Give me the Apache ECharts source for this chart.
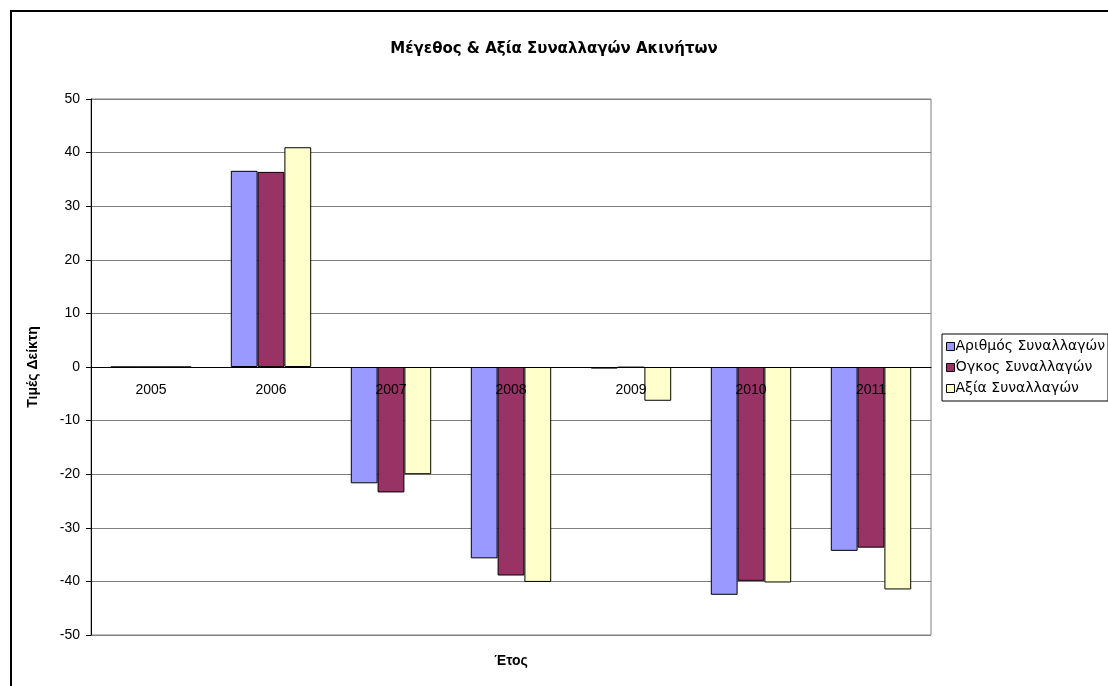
<!DOCTYPE html>
<html>
<head>
<meta charset="utf-8">
<script src="https://cdn.jsdelivr.net/npm/echarts@6/dist/echarts.min.js"></script>
<style>
  html, body { margin: 0; padding: 0; background: #fff; }
  #chart { width: 1108px; height: 686px; }
</style>
</head>
<body>
<div id="chart"></div>
<script>
// Years on the category axis
const years = ['2005', '2006', '2007', '2008', '2009', '2010', '2011'];

// Index values per series (annual % change)
const arithmos = [0, 36.6, -21.7, -35.7, -0.3, -42.5, -34.3];
const ogkos    = [0, 36.4, -23.4, -38.9, -0.1, -39.9, -33.7];
const axia     = [0, 41.0, -20.0, -40.1, -6.3, -40.2, -41.5];

const seriesNames = ['Αριθμός Συναλλαγών', 'Όγκος Συναλλαγών', 'Αξία Συναλλαγών'];
const seriesColors = ['#9999FF', '#993366', '#FFFFCC'];

const font = '"Liberation Sans", Arial, sans-serif';
const wideFont = '"DejaVu Sans", Verdana, sans-serif';

const chart = echarts.init(document.getElementById('chart'), null, { renderer: 'canvas' });

function barSeries(name, data, color) {
  return {
    name: name,
    type: 'bar',
    data: data,
    barGap: '0%',
    barCategoryGap: '33%',
    itemStyle: { color: color, borderColor: '#000', borderWidth: 1 },
    emphasis: { disabled: true }
  };
}

// plot area geometry; the category axis sits on the zero line (midway, since -50..50)
const gridTop = 99, gridBottom = 51, plotHeight = 686 - gridTop - gridBottom;

chart.setOption({
  animation: false,
  backgroundColor: '#fff',
  title: {
    text: 'Μέγεθος & Αξία Συναλλαγών Ακινήτων',
    left: 'center',
    top: 37,
    textStyle: { fontFamily: wideFont, fontSize: 15, fontWeight: 'bold', color: '#000' }
  },
  legend: {
    orient: 'vertical',
    left: 942,
    top: 334,
    padding: [4, 3, 4, 4],
    itemWidth: 8,
    itemHeight: 8,
    itemGap: 4,
    borderColor: '#000',
    borderWidth: 1,
    borderRadius: 0,
    icon: 'rect',
    data: seriesNames,
    textStyle: { fontFamily: wideFont, fontSize: 14, lineHeight: 17, color: '#000', padding: [0, 0, 0, -4] },
    itemStyle: { borderColor: '#000', borderWidth: 1 }
  },
  grid: {
    left: 91,
    right: 177,
    top: gridTop,
    bottom: gridBottom,
    show: true,
    borderColor: '#808080',
    borderWidth: 1,
    backgroundColor: '#fff'
  },
  xAxis: {
    type: 'category',
    data: years,
    offset: -plotHeight / 2,
    axisLine: { onZero: false, lineStyle: { color: '#000', width: 1 } },
    axisTick: { show: false },
    axisLabel: { margin: 16, fontFamily: font, fontSize: 14, color: '#000' },
    splitLine: { show: false },
    z: 5
  },
  yAxis: {
    type: 'value',
    min: -50,
    max: 50,
    interval: 10,
    name: 'Τιμές Δείκτη',
    nameLocation: 'middle',
    nameGap: 51,
    nameTextStyle: { fontFamily: font, fontSize: 14, fontWeight: 'bold', color: '#000' },
    axisLine: { show: true, lineStyle: { color: '#000', width: 1 } },
    axisTick: { show: true, inside: false, length: 5, lineStyle: { color: '#000' } },
    axisLabel: { margin: 11, fontFamily: font, fontSize: 14, color: '#000' },
    splitLine: { show: true, lineStyle: { color: '#808080', width: 1 } }
  },
  graphic: [
    {
      type: 'rect',
      shape: { x: 11, y: 11, width: 1200, height: 800 },
      style: { fill: 'none', stroke: '#000', lineWidth: 2 },
      silent: true,
      z: 100
    },
    {
      type: 'text',
      x: 511,
      y: 661,
      style: {
        text: 'Έτος',
        fontFamily: font,
        fontSize: 14,
        fontWeight: 'bold',
        fill: '#000',
        align: 'center',
        verticalAlign: 'middle'
      }
    }
  ],
  series: [
    barSeries(seriesNames[0], arithmos, seriesColors[0]),
    barSeries(seriesNames[1], ogkos, seriesColors[1]),
    barSeries(seriesNames[2], axia, seriesColors[2])
  ]
});
</script>
</body>
</html>
